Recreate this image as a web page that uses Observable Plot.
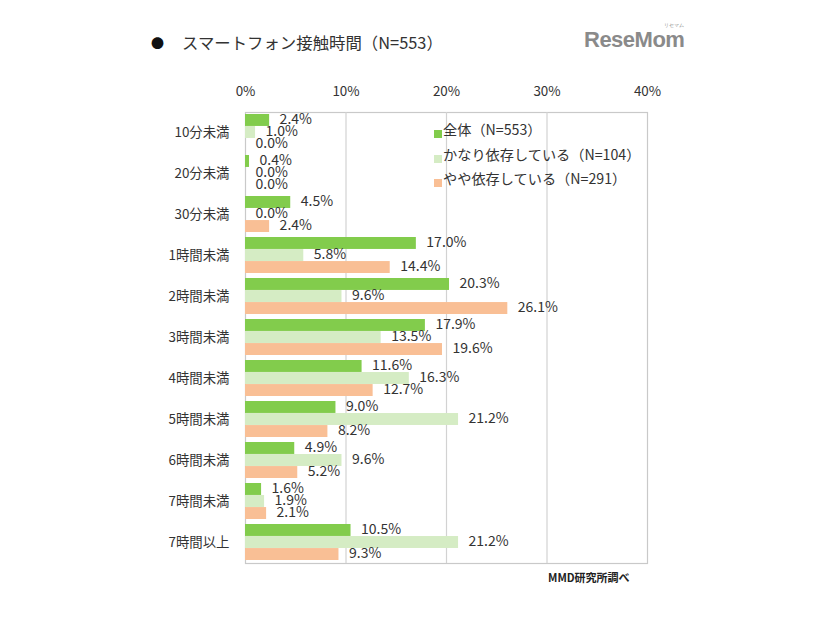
<!DOCTYPE html>
<html>
<head>
<meta charset="utf-8">
<script src="https://cdn.jsdelivr.net/npm/d3@7"></script>
<script src="https://cdn.jsdelivr.net/npm/@observablehq/plot@0.6"></script>
<style>
  body { margin: 0; background: #fff; font-family: "Noto Sans CJK JP", "Noto Sans", sans-serif; }
  #wrap { position: relative; width: 826px; height: 620px; overflow: hidden; }
  #chart { position: absolute; left: 0; top: 0; }
  .title { position: absolute; left: 151px; top: 30px; font-size: 16.4px; color: #333; white-space: nowrap; }
  .title .bullet { font-size: 13px; margin-right: 18px; color: #111; position: relative; top: -1px; }
  .logo { position: absolute; left: 584px; top: 27px; font-family: "Liberation Sans", Arial, sans-serif; font-weight: bold; font-size: 22px; color: #8a8a8a; letter-spacing: -0.5px; }
  .logo small { position: absolute; left: 80px; top: -4px; font-size: 4.5px; font-weight: normal; letter-spacing: 0; }
  .legend { position: absolute; left: 434px; top: 120px; font-size: 14.2px; color: #333; }
  .legend div { height: 24.5px; line-height: 19px; white-space: nowrap; position: relative; padding-left: 9px; }
  .legend span.sw { position: absolute; left: 0; top: 10px; width: 8px; height: 8px; }
  .caption { position: absolute; left: 548px; top: 569px; font-size: 11px; font-weight: bold; color: #222; white-space: nowrap; }
</style>
</head>
<body>
<div id="wrap">
  <div id="chart"></div>
  <div class="title"><span class="bullet">●</span>スマートフォン接触時間（N=553）</div>
  <div class="logo">ReseMom<small>リセマム</small></div>
  <div class="legend" id="legend"></div>
  <div class="caption">MMD研究所調べ</div>
</div>
<script>
const categories = ["10分未満","20分未満","30分未満","1時間未満","2時間未満","3時間未満","4時間未満","5時間未満","6時間未満","7時間未満","7時間以上"];
const seriesNames = ["全体（N=553）","かなり依存している（N=104）","やや依存している（N=291）"];
const seriesColors = ["#82cc4c","#d5ecc4","#f9bf95"];
const zentai = [2.4,0.4,4.5,17.0,20.3,17.9,11.6,9.0,4.9,1.6,10.5];
const kanari = [1.0,0.0,0.0,5.8,9.6,13.5,16.3,21.2,9.6,1.9,21.2];
const yaya   = [0.0,0.0,2.4,14.4,26.1,19.6,12.7,8.2,5.2,2.1,9.3];
const xTicks = [0,10,20,30,40];
const gridTicks = [10,20,30];

const seriesValues = [zentai, kanari, yaya];
const rowsBySeries = seriesValues.map((vals, s) =>
  categories.map((c, i) => ({category: c, value: vals[i], series: seriesNames[s]})));

const step = 451 / 11;
const bw = step * (1 - 0.12);
const third = bw / 3;

const marks = [
  Plot.frame({stroke: "#c9c9c9", strokeWidth: 1.2}),
  Plot.ruleX(gridTicks, {stroke: "#d2d2d2", strokeWidth: 1.2})
];
rowsBySeries.forEach((rows, s) => {
  marks.push(Plot.barX(rows, {
    x: "value", y: "category", fill: seriesColors[s],
    insetTop: s * third, insetBottom: (2 - s) * third
  }));
});
rowsBySeries.forEach((rows, s) => {
  marks.push(Plot.text(rows, {
    x: "value", y: "category",
    text: d => d.value.toFixed(1) + "%",
    textAnchor: "start", dx: 10, dy: (s - 1) * third - 1,
    fill: "#333", fontSize: 14
  }));
});

const chart = Plot.plot({
  width: 826, height: 620,
  marginLeft: 245, marginRight: 179, marginTop: 112, marginBottom: 57,
  style: {background: "#fff", fontFamily: "'Noto Sans CJK JP', 'Noto Sans', sans-serif", fontSize: "13.4px", color: "#333"},
  x: {domain: [0, 40], ticks: xTicks, tickFormat: d => d + "%", axis: "top", tickSize: 0, tickPadding: 17, label: null},
  y: {domain: categories, paddingInner: 0.12, paddingOuter: 0.06, tickSize: 0, tickPadding: 16, label: null},
  marks
});
document.getElementById("chart").appendChild(chart);

const legend = document.getElementById("legend");
seriesNames.forEach((n, s) => {
  const d = document.createElement("div");
  d.innerHTML = `<span class="sw" style="background:${seriesColors[s]}"></span>${n}`;
  legend.appendChild(d);
});
</script>
</body>
</html>
